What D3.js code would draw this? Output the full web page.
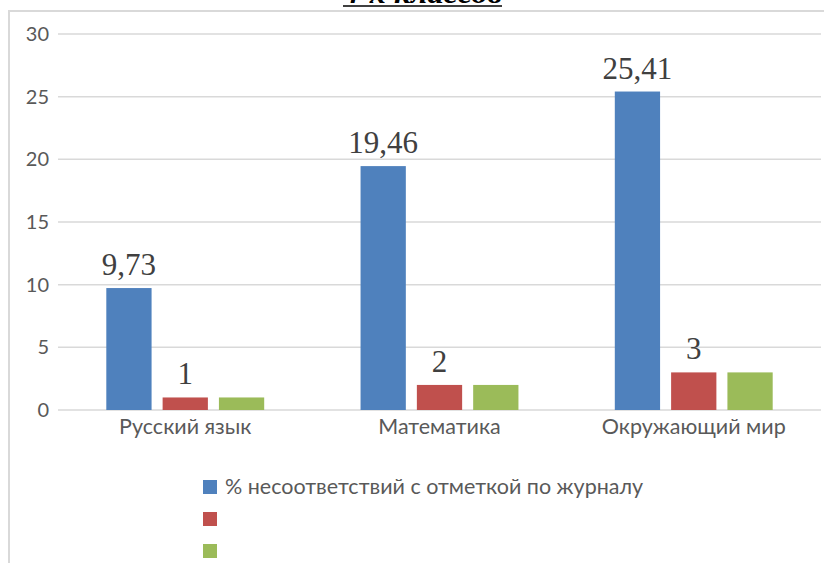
<!DOCTYPE html>
<html>
<head>
<meta charset="utf-8">
<script src="https://cdn.jsdelivr.net/npm/d3@7"></script>
<style>
  html, body { margin: 0; padding: 0; background: #fff; overflow: hidden; }
</style>
</head>
<body>
<div id="chart"></div>
<script>
const categories = ["Русский язык", "Математика", "Окружающий мир"];
const seriesNames = ["% несоответствий с отметкой по журналу", "", ""];
const seriesColours = ["#4f81bd", "#c0504d", "#9bbb59"];
const mismatchPct = [9.73, 19.46, 25.41];
const series2 = [1, 2, 3];
const series3 = [1, 2, 3];
const dataLabels = [["9,73", "19,46", "25,41"], ["1", "2", "3"], null];
const yTicks = [0, 5, 10, 15, 20, 25, 30];
const titleText = "4-х классов";

const sizes = {width: 824, height: 563, margin: {top: 34, right: 3, bottom: 153, left: 58}};
const values = [mismatchPct, series2, series3];

const svg = d3.select("#chart").append("svg")
  .attr("width", sizes.width)
  .attr("height", sizes.height)
  .attr("viewBox", `0 0 ${sizes.width} ${sizes.height}`);

// chart frame (only left + top edges are in view)
svg.append("rect")
  .attr("x", 9).attr("y", 11)
  .attr("width", 900).attr("height", 700)
  .attr("fill", "none")
  .attr("stroke", "#d9d9d9")
  .attr("stroke-width", 2);

// title, mostly cut off at the top (as in the source)
svg.append("text")
  .text(titleText)
  .attr("x", 343)
  .attr("y", 3)
  .attr("textLength", 159)
  .attr("lengthAdjust", "spacingAndGlyphs")
  .style("font-family", "Liberation Serif, serif")
  .style("font-weight", "bold")
  .style("font-style", "italic")
  .style("font-size", "28px")
  .style("fill", "#000");
svg.append("line")
  .attr("x1", 343).attr("x2", 502)
  .attr("y1", 6).attr("y2", 6)
  .attr("stroke", "#000").attr("stroke-width", 1.5);

const x0 = d3.scaleBand()
  .domain(categories)
  .range([sizes.margin.left, sizes.width - sizes.margin.right])
  .paddingInner(0.379)
  .paddingOuter(0.19);

const x1 = d3.scaleBand()
  .domain(d3.range(values.length))
  .range([0, x0.bandwidth()])
  .paddingInner(0.196);

const y = d3.scaleLinear()
  .domain([0, 30])
  .range([sizes.height - sizes.margin.bottom, sizes.margin.top]);

// y labels
const yAxis = svg.append("g")
  .attr("transform", `translate(${sizes.margin.left},0)`)
  .call(d3.axisLeft(y).tickValues(yTicks).tickSize(0).tickPadding(9));
yAxis.select(".domain").remove();
yAxis.selectAll("text")
  .style("font-family", "Lato, sans-serif")
  .style("font-size", "20px")
  .style("fill", "#595959");

// gridlines
svg.append("g")
  .selectAll("line")
  .data(yTicks)
  .enter()
  .append("line")
    .attr("x1", sizes.margin.left)
    .attr("x2", sizes.width - sizes.margin.right)
    .attr("y1", (d) => y(d))
    .attr("y2", (d) => y(d))
    .attr("stroke", "#d9d9d9")
    .attr("stroke-width", 1.5);

// bars + data labels
values.forEach((vals, s) => {
  const g = svg.append("g");
  g.selectAll("rect")
    .data(vals)
    .enter()
    .append("rect")
      .attr("x", (d, i) => x0(categories[i]) + x1(s))
      .attr("y", (d) => y(d))
      .attr("width", x1.bandwidth())
      .attr("height", (d) => y(0) - y(d))
      .attr("fill", seriesColours[s]);

  if (dataLabels[s]) {
    g.selectAll("text")
      .data(vals)
      .enter()
      .append("text")
        .text((d, i) => dataLabels[s][i])
        .attr("x", (d, i) => x0(categories[i]) + x1(s) + x1.bandwidth() / 2)
        .attr("y", (d) => y(d) - 13)
        .style("text-anchor", "middle")
        .style("font-family", "Liberation Serif, serif")
        .style("font-size", "31px")
        .style("fill", "#404040");
  }
});

// category labels
const xAxis = svg.append("g")
  .attr("transform", `translate(0,${y(0)})`)
  .call(d3.axisBottom(x0).tickSize(0).tickPadding(9));
xAxis.select(".domain").remove();
xAxis.selectAll("text")
  .attr("dy", "0.71em")
  .style("font-family", "Lato, sans-serif")
  .style("font-size", "21.5px")
  .style("fill", "#595959");

// legend
const legend = svg.append("g")
  .selectAll("g")
  .data(seriesNames)
  .enter()
  .append("g")
    .attr("transform", (d, i) => `translate(203,${480 + i * 32})`);
legend.append("rect")
  .attr("width", 14).attr("height", 14)
  .attr("fill", (d, i) => seriesColours[i]);
legend.append("text")
  .text((d) => d)
  .attr("x", 22)
  .attr("y", 14)
  .style("font-family", "Lato, sans-serif")
  .style("font-size", "21.5px")
  .style("fill", "#595959");
</script>
</body>
</html>
